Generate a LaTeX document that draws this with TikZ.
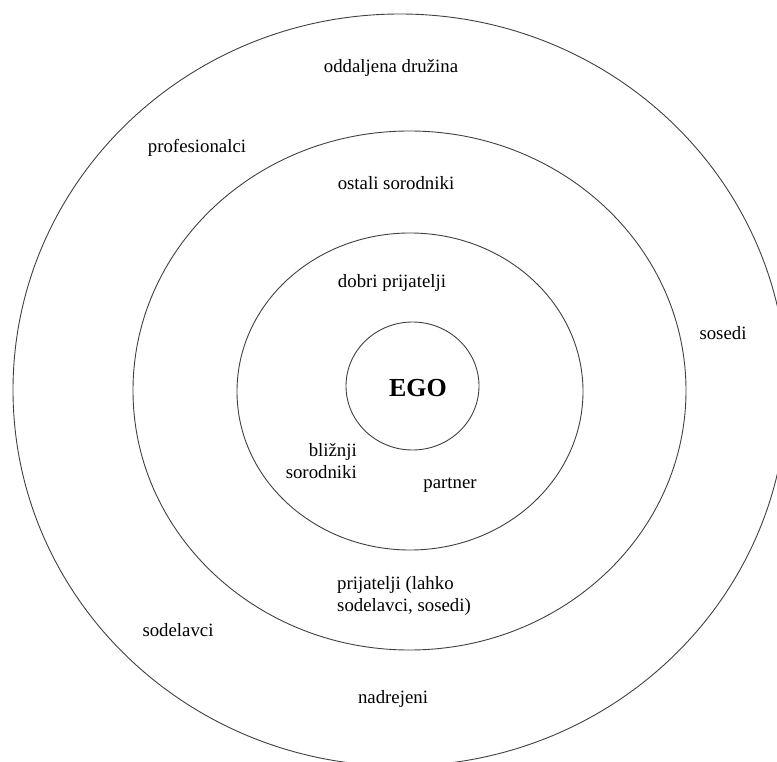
\documentclass[tikz,border=0pt]{standalone}
\usepackage{fontspec}
\setmainfont{Liberation Serif}
\usetikzlibrary{shapes.geometric}
\begin{document}
\begin{tikzpicture}[x=1pt,y=-1pt,
  ring/.style={ellipse, draw=black!75, line width=0.9pt, inner sep=0pt},
  lbl/.style={font=\fontsize{18.8}{22}\selectfont, inner sep=0pt},
  egolbl/.style={font=\fontsize{26}{30}\selectfont\bfseries, inner sep=0pt}]
\useasboundingbox (0,0) rectangle (777,762);
\clip (0,0) rectangle (777,762);
\node[ring, minimum width=774pt, minimum height=752pt] (outer) at (400,390) {};
\node[ring, minimum width=553pt, minimum height=519pt] (second) at (409.5,390.5) {};
\node[ring, minimum width=346pt, minimum height=317pt] (third) at (410,391.5) {};
\node[ring, minimum width=133pt, minimum height=128pt] (ego) at (412.5,386) {};
\node[egolbl] (egot) at (418,388) {EGO};
\node[lbl] (oddaljena) at (391,68) {oddaljena družina};
\node[lbl] (prof) at (197,148) {profesionalci};
\node[lbl] (ostali) at (396,183) {ostali sorodniki};
\node[lbl] (dobri) at (392,283) {dobri prijatelji};
\node[lbl] (sosedi) at (723,333) {sosedi};
\node[lbl, align=right, anchor=east] (bliznji) at (357,461) {bližnji\\sorodniki};
\node[lbl] (partner) at (450,485) {partner};
\node[lbl, align=left, anchor=west] (prij) at (337,596) {prijatelji (lahko\\sodelavci, sosedi)};
\node[lbl] (sodel) at (178,630) {sodelavci};
\node[lbl] (nadr) at (393,699) {nadrejeni};
\end{tikzpicture}
\end{document}
